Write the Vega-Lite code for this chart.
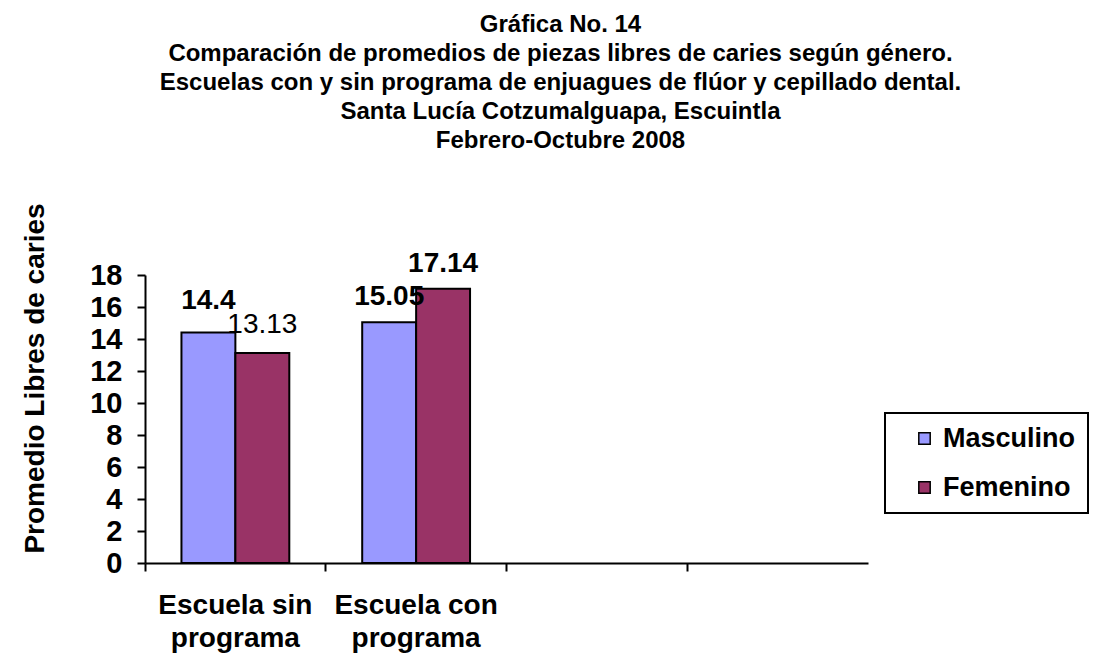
{
  "$schema": "https://vega.github.io/schema/vega-lite/v6.json",
  "width": 723,
  "height": 288,
  "autosize": {"type": "none"},
  "padding": {"left": 145, "top": 275, "right": 225, "bottom": 107},
  "background": "white",
  "title": {
    "text": [
      "Gráfica No. 14",
      "Comparación de promedios de piezas libres de caries según género.",
      "Escuelas con y sin programa de enjuagues de flúor y cepillado dental.",
      "Santa Lucía Cotzumalguapa, Escuintla",
      "Febrero-Octubre 2008"
    ],
    "font": "Liberation Sans",
    "fontSize": 24,
    "fontWeight": "bold",
    "lineHeight": 29,
    "anchor": "middle",
    "frame": "group",
    "dx": 54,
    "offset": 50,
    "color": "black"
  },
  "config": {"view": {"stroke": null}, "font": "Liberation Sans"},
  "data": {
    "values": [
      {"escuela": "Escuela sin programa", "genero": "Masculino", "promedio": 14.4},
      {"escuela": "Escuela sin programa", "genero": "Femenino", "promedio": 13.13},
      {"escuela": "Escuela con programa", "genero": "Masculino", "promedio": 15.05},
      {"escuela": "Escuela con programa", "genero": "Femenino", "promedio": 17.14}
    ]
  },
  "encoding": {
    "x": {
      "field": "escuela",
      "type": "nominal",
      "scale": {
        "domain": ["Escuela sin programa", "Escuela con programa", "c3", "c4"],
        "paddingInner": 0,
        "paddingOuter": 0
      },
      "axis": {
        "title": null,
        "bandPosition": 0,
        "labelAngle": 0,
        "labelExpr": "datum.value == 'Escuela sin programa' ? ['Escuela sin', 'programa'] : datum.value == 'Escuela con programa' ? ['Escuela con', 'programa'] : ''",
        "labelFontSize": 28,
        "labelFontWeight": "bold",
        "labelColor": "black",
        "labelLineHeight": 33,
        "labelBaseline": "top",
        "labelPadding": 20,
        "domainColor": "black",
        "domainWidth": 2,
        "tickColor": "black",
        "tickWidth": 2,
        "tickSize": 8
      }
    },
    "xOffset": {
      "field": "genero",
      "type": "nominal",
      "scale": {"domain": ["Masculino", "Femenino"], "paddingInner": 0, "paddingOuter": 0.676}
    },
    "y": {
      "field": "promedio",
      "type": "quantitative",
      "scale": {"domain": [0, 18]},
      "axis": {
        "title": "Promedio Libres de caries",
        "titleFontSize": 28,
        "titleFontWeight": "bold",
        "titleColor": "black",
        "titleAngle": -90,
        "titleX": -110,
        "titleY": 103,
        "titleAlign": "center",
        "titleBaseline": "middle",
        "values": [0, 2, 4, 6, 8, 10, 12, 14, 16, 18],
        "grid": false,
        "domainColor": "black",
        "domainWidth": 2,
        "tickColor": "black",
        "tickWidth": 2,
        "tickSize": 8,
        "labelFontSize": 29,
        "labelFontWeight": "bold",
        "labelColor": "black",
        "labelPadding": 15,
        "labelFlush": false
      }
    }
  },
  "layer": [
    {
      "mark": {"type": "bar", "stroke": "black", "strokeWidth": 2},
      "encoding": {
        "color": {
          "field": "genero",
          "type": "nominal",
          "scale": {"domain": ["Masculino", "Femenino"], "range": ["#9999FF", "#993366"]},
          "legend": {
            "orient": "none",
            "legendX": 740,
            "legendY": 138,
            "title": null,
            "strokeColor": "black",
            "fillColor": "white",
            "padding": 12,
            "symbolType": "square",
            "symbolSize": 130,
            "symbolStrokeColor": "black",
            "symbolStrokeWidth": 1.5,
            "symbolOffset": 14,
            "labelFontSize": 27,
            "labelFontWeight": "bold",
            "labelColor": "black",
            "labelOffset": 5,
            "rowPadding": 21,
            "encode": {"legend": {"update": {"strokeWidth": {"value": 2}}}}
          }
        }
      }
    },
    {
      "transform": [{"filter": "datum.promedio == 15.05 || datum.promedio == 17.14"}],
      "mark": {"type": "text", "fontSize": 28, "fontWeight": "bold", "dy": -17, "baseline": "alphabetic", "color": "black"},
      "encoding": {"text": {"field": "promedio", "type": "nominal"}}
    },
    {
      "transform": [{"filter": "datum.promedio == 14.4"}],
      "mark": {"type": "text", "fontSize": 28, "fontWeight": "bold", "dy": -24, "baseline": "alphabetic", "color": "black"},
      "encoding": {"text": {"field": "promedio", "type": "nominal"}}
    },
    {
      "transform": [{"filter": "datum.promedio == 13.13"}],
      "mark": {"type": "text", "fontSize": 28, "dy": -20, "baseline": "alphabetic", "color": "black"},
      "encoding": {"text": {"field": "promedio", "type": "nominal"}}
    }
  ]
}
